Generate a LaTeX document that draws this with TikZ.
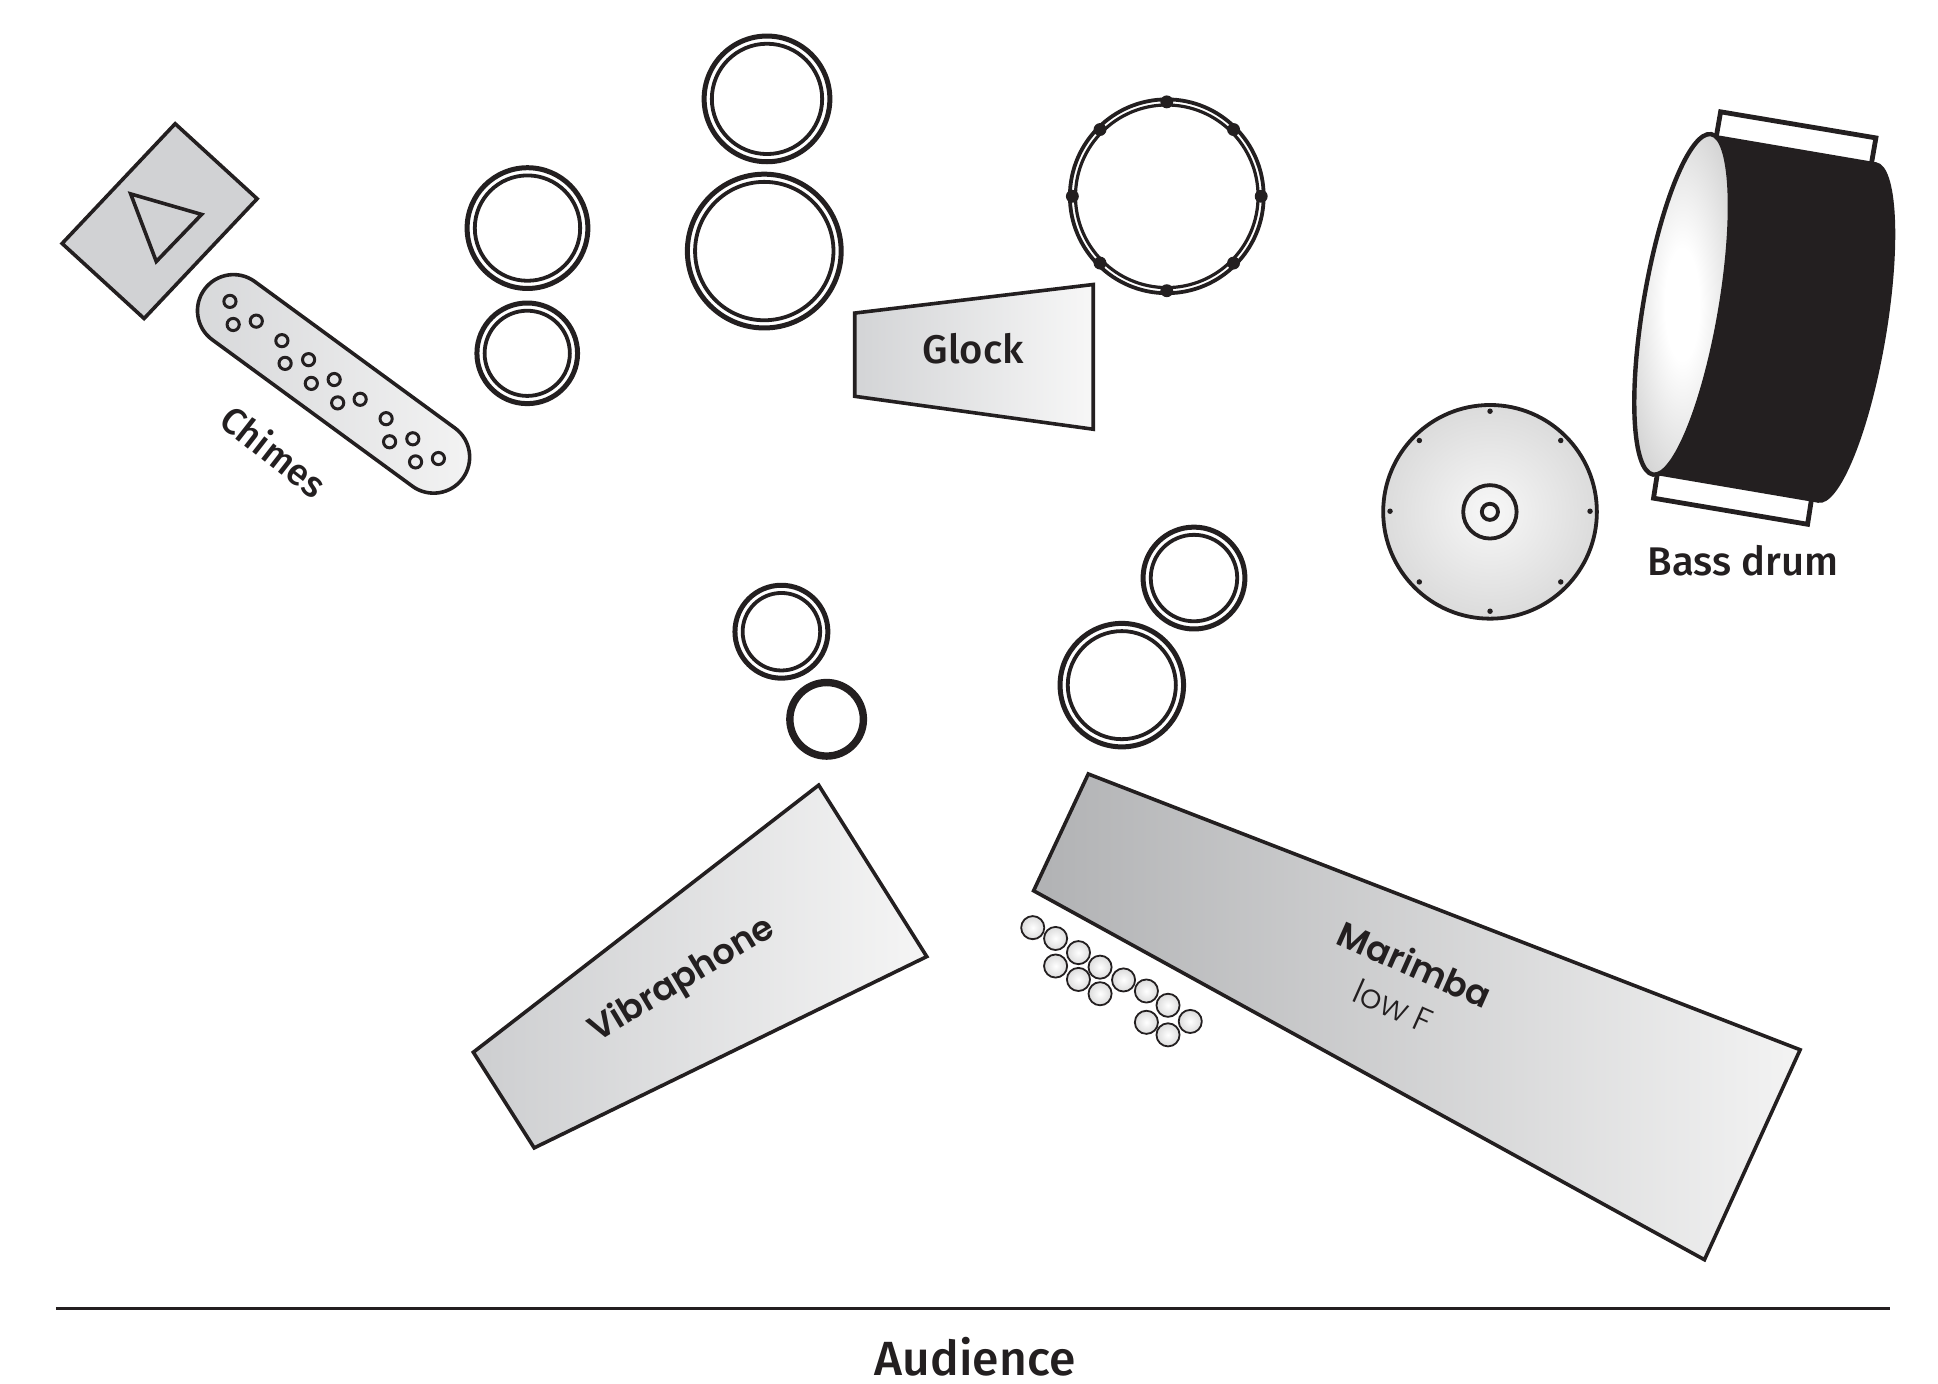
\documentclass[tikz,border=0pt]{standalone}
\usepackage{fontspec}
\setmainfont{Fira Sans}
\newfontfamily\fmed{Fira Sans Medium}
\newfontfamily\pmed{Poppins SemiBold}
\newfontfamily\plight{Poppins Light}
\definecolor{ink}{HTML}{231F20}
\definecolor{boxgray}{HTML}{D1D2D4}
\definecolor{gla}{HTML}{D3D4D6}
\definecolor{glb}{HTML}{F7F7F7}
\definecolor{vba}{HTML}{CDCED0}
\definecolor{vbb}{HTML}{F5F5F5}
\definecolor{mra}{HTML}{B1B2B4}
\definecolor{mrb}{HTML}{F3F3F3}
\definecolor{cha}{HTML}{D6D7D9}
\definecolor{chb}{HTML}{F4F4F4}
\pgfdeclareradialshading{headshade}{\pgfpoint{0bp}{0bp}}{color(0bp)=(white); color(8bp)=(white); color(50bp)=(black!34)}
\pgfdeclareradialshading{cymshade}{\pgfpoint{0bp}{0bp}}{color(0bp)=(black!3); color(50bp)=(black!25)}
\pgfdeclareradialshading{ballshade}{\pgfpoint{0bp}{0bp}}{color(0bp)=(white); color(50bp)=(black!28)}
\tikzset{
  outl/.style={draw=ink, line width=1.8pt, line join=miter},
  ringout/.style={draw=ink, line width=2.5pt},
  ringin/.style={draw=ink, line width=1.9pt},
  hole/.style={draw=ink, line width=1.5pt},
  lbl/.style={text=ink, inner sep=0pt},
}
\newcommand\dring[3]{%
  \draw[ringout] (#1,#2) circle[radius=#3-2];
  \draw[ringin] (#1,#2) circle[radius=#3-8.2];}
\begin{document}
\begin{tikzpicture}[x=0.6212pt,y=-0.6212pt]
\useasboundingbox (0,0) rectangle (1560,1113.3);
% triangle box
\draw[outl, fill=boxgray] (141,99.6) -- (207,160) -- (116,256.4) -- (50,196) -- cycle;
\draw[outl, fill=boxgray] (105.2,156.1) -- (162.3,172.6) -- (125.8,210.5) -- cycle;
% chimes
\begin{scope}[shift={(268.5,309)}, rotate=-36.2]
\draw[outl, left color=cha, right color=chb, rounded corners=18pt] (-128.8,-29) rectangle (128.8,29);
\end{scope}
\foreach \p in {(185.1,242.6),(187.7,261.2),(206.3,258.5),(226.9,274.2),(229.5,292.5),(248.4,289.5),(250.6,308.6),(269,305.5),(271.8,324.3),(289.9,321.4),(310.8,337),(313.6,355.6),(332.3,353.2),(334.5,371.8),(352.9,369.1)}
  \draw[hole] \p circle[radius=4.9];
\node[lbl, rotate=-38, font=\fmed\fontsize{18.5}{20}\selectfont] (chimes) at (221,363) {Chimes};
% timpani
\dring{424.6}{183.6}{50.6}
\dring{424.4}{284.4}{42.5}
\dring{617.4}{79.6}{52.6}
\dring{615.2}{202.1}{63.9}
\dring{629}{508.5}{39.4}
\dring{961.1}{465.3}{43}
\dring{903}{551.5}{51.7}
\draw[draw=ink, line width=3.7pt] (665.4,579) circle[radius=29.6];
% snare
\draw[draw=ink, line width=1.9pt] (939.2,158) circle[radius=78];
\draw[draw=ink, line width=1.6pt] (939.2,158) circle[radius=73.5];
\foreach \a in {0,45,...,315}
  \fill[ink, shift={(939.2,158)}] (\a:76) circle[radius=5.2];
% glock
\draw[outl, left color=gla, right color=glb] (688,252) -- (880,229) -- (880,345.5) -- (688,319) -- cycle;
\node[lbl, font=\fmed\fontsize{20}{22}\selectfont, anchor=base] (glock) at (783.3,292.5) {Glock};
% cymbal
\draw[draw=ink, line width=1.9pt, shading=cymshade] (1199.4,412) circle[radius=86];
\foreach \a in {0,45,...,315}
  \fill[ink, shift={(1199.4,411.5)}] (\a:80.5) circle[radius=2.2];
\draw[draw=ink, line width=1.9pt] (1199.3,412) circle[radius=21.5];
\draw[draw=ink, line width=1.9pt] (1199.3,412) circle[radius=6.5];
% bass drum
\draw[draw=ink, line width=2.4pt, fill=white] (1385,90) -- (1510,111) -- (1506,134) -- (1381,113) -- cycle;
\draw[draw=ink, line width=2.4pt, fill=white] (1334.6,378) -- (1458.6,399) -- (1455,422) -- (1331,401) -- cycle;
\fill[ink] (1377.4,108) -- (1510.5,130.7) -- (1463.7,404.7) -- (1330.6,382) -- cycle;
\fill[ink, rotate around={-9.7:(1487.1,267.7)}] (1487.1,267.7) ellipse[x radius=31, y radius=139];
\draw[draw=ink, line width=2.2pt, shading=headshade, rotate around={-9.7:(1354,245)}] (1354,245) ellipse[x radius=31, y radius=139];
\node[lbl, font=\fmed\fontsize{20}{22}\selectfont, anchor=base] (bass) at (1403,463.5) {Bass drum};
% vibraphone
\draw[outl, left color=vba, right color=vbb] (381,847) -- (659,632) -- (746,770) -- (430,924) -- cycle;
\node[lbl, rotate=31, font=\pmed\fontsize{17.5}{19}\selectfont] (vib) at (549.4,789) {Vibraphone};
% marimba
\draw[outl, left color=mra, right color=mrb] (876,623) -- (1449,845) -- (1372,1014) -- (832,717) -- cycle;
\node[lbl, rotate=-24, font=\pmed\fontsize{17.5}{19}\selectfont] (mar) at (1139,776) {Marimba};
\node[lbl, rotate=-24, font=\plight\fontsize{17}{19}\selectfont] (lowf) at (1121.5,810) {low F};
% mallets
\foreach \p in {(831.3,746.7),(849.7,755.4),(868.1,766.8),(849.7,777.6),(885.5,778.5),(868.1,788.4),(904.4,788.8),(885.5,799.9),(922.8,797.7),(940.2,809.2),(922.8,822.9),(958.1,822.2),(940.2,833)}
  \draw[draw=ink, line width=0.9pt, shading=ballshade] \p circle[radius=9.3];
% audience
\coordinate (audL) at (45,1053);
\coordinate (audR) at (1521,1053);
\draw[draw=ink, line width=1.5pt] (audL) -- (audR);
\node[lbl, font=\fmed\fontsize{24}{26}\selectfont, anchor=base] (aud) at (785,1107.5) {Audience};
\end{tikzpicture}
\end{document}
